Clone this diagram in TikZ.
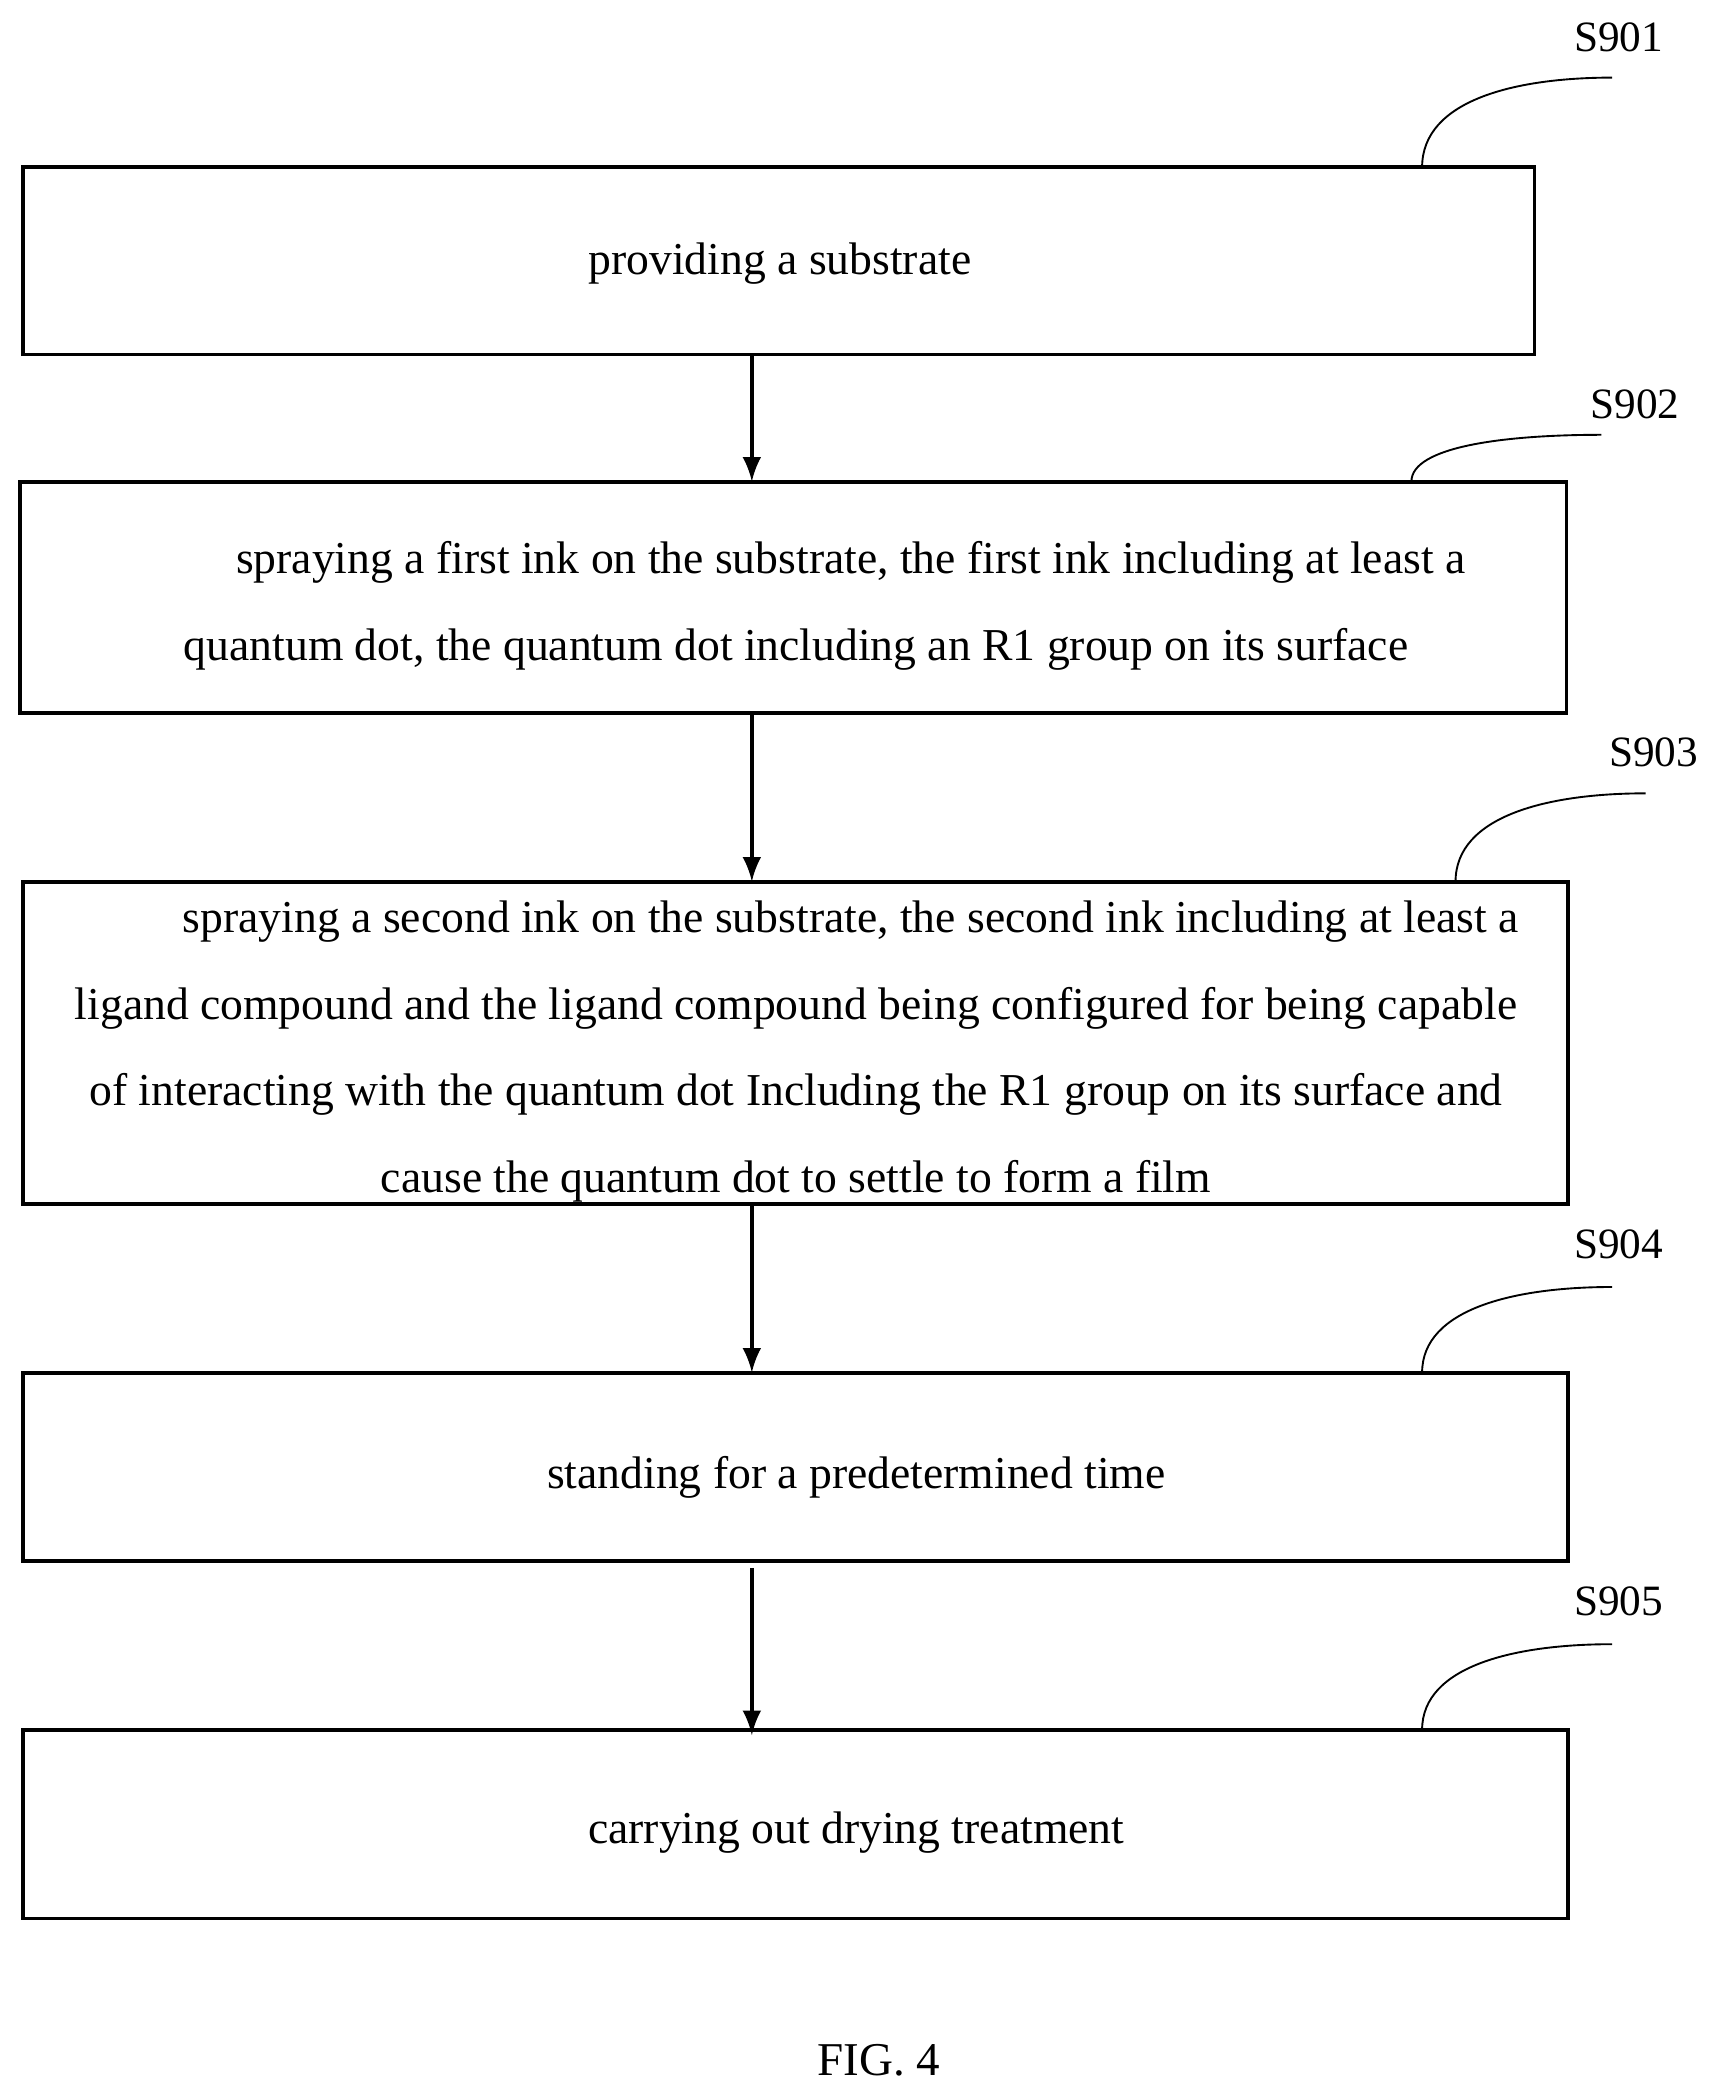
\documentclass[tikz,border=0pt]{standalone}
\usepackage{fontspec}
\setmainfont{Liberation Serif}
\usetikzlibrary{positioning}

\begin{document}
\begin{tikzpicture}[x=0.01cm,y=-0.01cm]
\tikzset{stepbox/.style={align=center,font=\fontsize{9.7}{18.4}\selectfont},
  lbl/.style={font=\fontsize{9.2}{11}\selectfont},
  flow/.style={thick,-latex}}
\useasboundingbox (0,0) rectangle (1280,1560);
% boxes
\draw [thick] (17,125) rectangle (1147,265);
\node [stepbox] (s1) at (583,197) {providing a substrate};
\draw [thick] (15,360) rectangle (1171,533);
\node [stepbox] (s2) at (595,453) {\hspace*{2.4em}spraying a first ink on the substrate, the first ink including at least a\\quantum dot, the quantum dot including an R1 group on its surface};
\draw [thick] (17,659) rectangle (1172,900);
\node [stepbox] (s3) at (595,786) {\hspace*{2.4em}spraying a second ink on the substrate, the second ink including at least a\\ligand compound and the ligand compound being configured for being capable\\of interacting with the quantum dot Including the R1 group on its surface and\\cause the quantum dot to settle to form a film};
\draw [thick] (17,1026) rectangle (1172,1167);
\node [stepbox] (s4) at (640,1104) {standing for a predetermined time};
\draw [thick] (17,1293) rectangle (1172,1434);
\node [stepbox] (s5) at (640,1370) {carrying out drying treatment};
% arrows
\coordinate (a1) at (562,265); \coordinate (b1) at (562,360);
\coordinate (a2) at (562,533); \coordinate (b2) at (562,659);
\coordinate (a3) at (562,900); \coordinate (b3) at (562,1026);
\coordinate (a4) at (562,1172); \coordinate (b4) at (562,1297);
\foreach \i in {1,...,4} \draw [flow] (a\i) -- (b\i);
% step labels
\foreach \n/\x/\y/\lx/\ly/\h in {901/1063/125/1210/28/67, 902/1055/360/1222/302/35,
  903/1088/659/1236/562/66, 904/1063/1026/1210/930/64, 905/1063/1293/1210/1197/64} {
  \node [lbl] (l\n) at (\lx,\ly) {S\n};
  \draw (\x,\y) .. controls (\x,\y-0.75*\h) and (\x+70,\y-\h) .. (\x+142,\y-\h);
}
\node [lbl,font=\fontsize{10}{12}\selectfont] (fig) at (657,1540) {FIG. 4};
\end{tikzpicture}
\end{document}
